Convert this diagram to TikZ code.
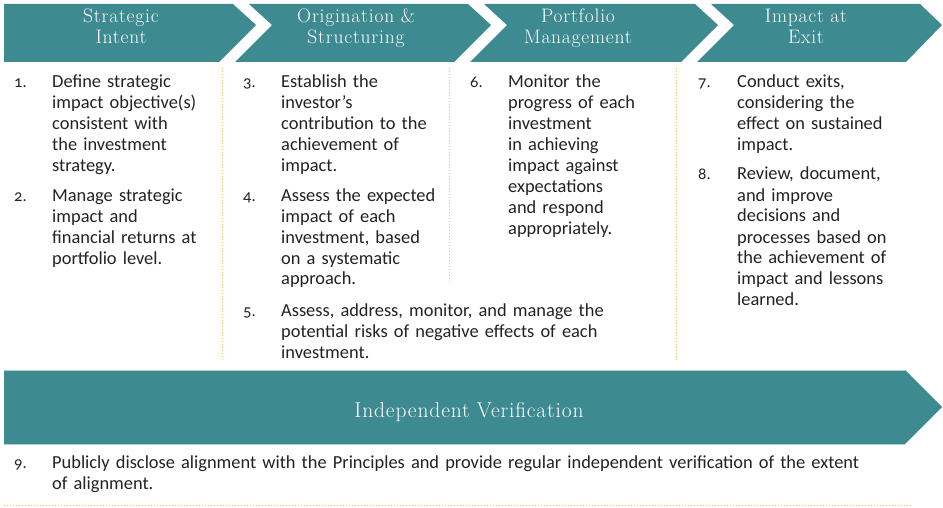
\documentclass[tikz,border=0pt]{standalone}
\usepackage{fontspec}
\newfontfamily\headfont[LetterSpace=4]{lmroman17-regular.otf}
\newfontfamily\bodyfont[Numbers=OldStyle]{Carlito}
\definecolor{teal0}{RGB}{62,138,145}
\definecolor{tealedge}{RGB}{170,207,210}
\definecolor{gold}{RGB}{243,194,68}
\definecolor{ink}{RGB}{34,34,34}
\tikzset{
  x=1pt, y=-1pt,
  band/.style={fill=teal0, draw=none},
  head/.style={font=\headfont\fontsize{19.5}{21}\selectfont, text=white,
    align=center, text width=230pt, inner sep=0pt, anchor=base},
  body/.style={font=\bodyfont\fontsize{18.4}{21}\selectfont, text=ink,
    align=left, text width=420pt, inner sep=0pt, anchor=base west},
  num/.style={font=\bodyfont\fontsize{16.5}{21}\selectfont, text=ink,
    inner sep=0pt, anchor=base west},
  sep/.style={draw=gold, line width=1pt, dash pattern=on 1pt off 2pt},
}
\begin{document}
\begin{tikzpicture}
\useasboundingbox (0,0) rectangle (943,508);

% process chevrons
\fill[band] (4,4) -- (233,4) -- (256,25) -- (219,62) -- (4,62) -- cycle;
\fill[band] (249,4) -- (468,4) -- (491,25) -- (454,62) -- (235,62) -- (272,25) -- cycle;
\fill[band] (484,4) -- (695,4) -- (718,25) -- (681,62) -- (470,62) -- (507,25) -- cycle;
\fill[band] (711,4) -- (920,4) -- (942,25) -- (906,62) -- (697,62) -- (734,25) -- cycle;

\node[head] (h1) at (121,23) {Strategic\\Intent};
\node[head] (h2) at (356,23) {Origination \&\\Structuring};
\node[head] (h3) at (578,23) {Portfolio\\Management};
\node[head] (h4) at (806,23) {Impact at\\Exit};

% column separators
\draw[sep] (222,68) -- (222,358);
\draw[sep] (449,68) -- (449,282);
\draw[sep] (676,68) -- (676,360);

% column 1
\node[num] (n1) at (14,88) {1.};
\node[body] (t1) at (52,88) {Define strategic\\impact objective(s)\\consistent with\\the investment\\strategy.};
\node[num] (n2) at (14,201) {2.};
\node[body] (t2) at (52,201) {Manage strategic\\impact and\\financial returns at\\portfolio level.};

% column 2
\node[num] (n3) at (243,88) {3.};
\node[body] (t3) at (281,88) {Establish the\\investor’s\\contribution to the\\achievement of\\impact.};
\node[num] (n4) at (243,201) {4.};
\node[body] (t4) at (281,201) {Assess the expected\\impact of each\\investment, based\\on a systematic\\approach.};
\node[num] (n5) at (243,316) {5.};
\node[body] (t5) at (281,316) {Assess, address, monitor, and manage the\\potential risks of negative effects of each\\investment.};

% column 3
\node[num] (n6) at (470,88) {6.};
\node[body] (t6) at (508,88) {Monitor the\\progress of each\\investment\\in achieving\\impact against\\expectations\\and respond\\appropriately.};

% column 4
\node[num] (n7) at (698,88) {7.};
\node[body] (t7) at (737,88) {Conduct exits,\\considering the\\effect on sustained\\impact.};
\node[num] (n8) at (698,180) {8.};
\node[body] (t8) at (737,180) {Review, document,\\and improve\\decisions and\\processes based on\\the achievement of\\impact and lessons\\learned.};

% verification band
\fill[band] (4,370) -- (905,370) -- (942,407) -- (905,444) -- (4,444) -- cycle;
\draw[tealedge, line width=0.8pt] (4,370) -- (905,370);
\draw[tealedge, line width=0.8pt] (4,444) -- (905,444);
\node[head, font=\headfont\fontsize{21.5}{22}\selectfont, text width=400pt] (hv) at (469,417) {Independent Verification};

\node[num] (n9) at (14,468) {9.};
\node[body, text width=880pt] (t9) at (52,468) {Publicly disclose alignment with the Principles and provide regular independent verification of the extent\\of alignment.};

\draw[sep] (4,505) -- (913,505);
\end{tikzpicture}
\end{document}
